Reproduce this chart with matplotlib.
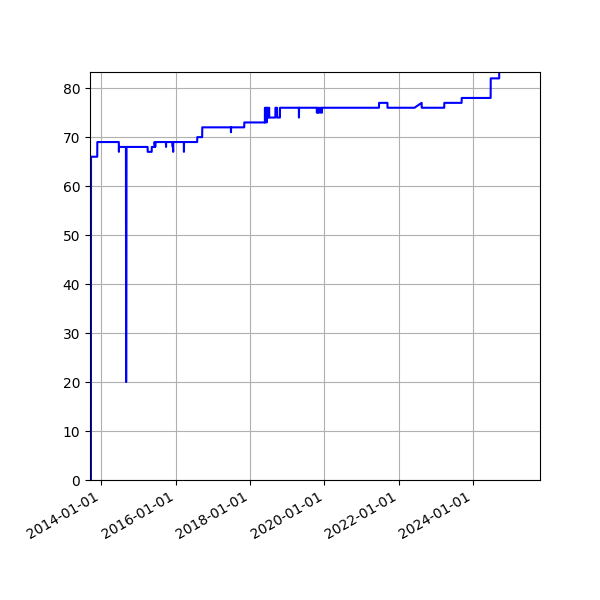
import matplotlib
matplotlib.use("Agg")
import matplotlib.pyplot as plt
import matplotlib.dates as mdates
import pandas as pd

# Readings (date, value)
dates = [
    "2013-09-21", "2013-09-22", "2013-11-22", "2013-11-23",
    "2014-06-22", "2014-06-23", "2014-06-24", "2014-08-31",
    "2014-09-01", "2014-09-02", "2014-09-06",
    "2015-04-01", "2015-04-02", "2015-05-11", "2015-05-12",
    "2015-06-07", "2015-06-08", "2015-06-15", "2015-06-20",
    "2015-09-28", "2015-09-29", "2015-09-30",
    "2015-12-03", "2015-12-04", "2015-12-05", "2015-12-08", "2015-12-09",
    "2016-03-22", "2016-03-23", "2016-03-24",
    "2016-07-31", "2016-08-01", "2016-09-18", "2016-09-19",
    "2017-06-27", "2017-06-28", "2017-06-29",
    "2017-11-05", "2017-11-06", "2018-05-27",
    "2018-05-28", "2018-05-29", "2018-06-05", "2018-06-06", "2018-06-12",
    "2018-06-13", "2018-06-20", "2018-06-21", "2018-06-28", "2018-06-29",
    "2018-07-08", "2018-07-09",
    "2018-09-07", "2018-09-08", "2018-09-24", "2018-09-25",
    "2018-10-22", "2018-10-23",
    "2019-04-26", "2019-04-27", "2019-04-28",
    "2019-10-19", "2019-10-20", "2019-10-25", "2019-10-30", "2019-11-05",
    "2019-11-10", "2019-11-20", "2019-11-25", "2019-12-05", "2019-12-08",
    "2019-12-10",
    "2021-06-21", "2021-06-22", "2021-09-12", "2021-09-13",
    "2022-06-05", "2022-08-14", "2022-08-15",
    "2023-03-24", "2023-03-25", "2023-09-11", "2023-09-12",
    "2024-06-22", "2024-06-23", "2024-09-14", "2024-09-15",
]
values = [
    0, 66, 66, 69,
    69, 67, 68, 68,
    47, 20, 68,
    68, 67, 67, 68,
    68, 69, 68, 69,
    69, 68, 69,
    69, 68, 69, 67, 69,
    69, 67, 69,
    69, 70, 70, 72,
    72, 71, 72,
    72, 73, 73,
    76, 73, 76, 74, 76,
    73, 76, 74, 76, 74,
    76, 74,
    74, 76, 76, 74,
    74, 76,
    76, 74, 76,
    76, 75, 76, 75, 76,
    75, 76, 75, 76, 75,
    76,
    76, 77, 77, 76,
    76, 77, 76,
    76, 77, 77, 78,
    78, 82, 82, 86,
]

x = pd.to_datetime(dates)

fig = plt.figure(figsize=(6, 6), dpi=100)
ax = fig.add_axes([0.15, 0.2, 0.75, 0.68])
ax.plot(x, values, color="blue", linewidth=1.5)

ax.set_xlim(pd.Timestamp("2013-09-12"), pd.Timestamp("2025-10-20"))
ax.set_ylim(0, 83.3)
ax.set_yticks(range(0, 81, 10))
ax.xaxis.set_major_locator(mdates.YearLocator(2))
ax.xaxis.set_major_formatter(mdates.DateFormatter("%Y-%m-%d"))
for lab in ax.get_xticklabels():
    lab.set_rotation(30)
    lab.set_ha("right")
ax.grid(True, color="#b0b0b0")

fig.savefig("out.png", dpi=100)
